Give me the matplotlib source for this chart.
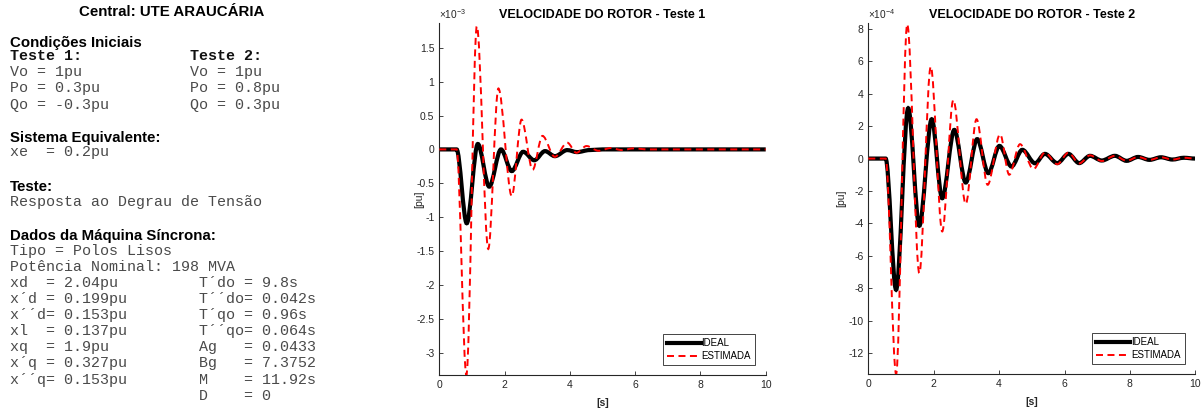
import matplotlib
matplotlib.use("Agg")
import matplotlib.pyplot as plt
from matplotlib.path import Path
from matplotlib.patches import PathPatch
from matplotlib.lines import Line2D
from matplotlib.ticker import FuncFormatter

plt.rcParams['font.family'] = ['Liberation Sans', 'DejaVu Sans']
plt.rcParams['axes.unicode_minus'] = False
plt.rcParams['mathtext.fontset'] = 'custom'
plt.rcParams['mathtext.rm'] = 'Liberation Sans'
plt.rcParams['mathtext.it'] = 'Liberation Sans:italic'

# ---------------- data ----------------
# Teste 1, values in units of 1e-3 pu
ideal1_t = [0, 0.53, 0.84, 1.18, 1.53, 1.89, 2.22, 2.57, 2.91, 3.24, 3.54, 3.92, 4.22, 4.6, 5.0, 10]
ideal1_y = [0, 0, -1.09, 0.08, -0.55, 0.0, -0.32, -0.035, -0.16, -0.025, -0.10, -0.01, -0.04, -0.01, 0, 0]
est1_t = [0, 0.53, 0.83, 1.15, 1.50, 1.81, 2.22, 2.52, 2.86, 3.16, 3.54, 3.92, 4.2, 4.51, 4.88, 5.25, 5.6, 5.95, 6.4, 10]
est1_y = [0, 0, -3.33, 1.82, -1.47, 0.90, -0.69, 0.44, -0.30, 0.20, -0.11, 0.10, -0.05, 0.05, -0.02, 0.02, -0.01, 0.015, 0, 0]

# Teste 2, values in units of 1e-4 pu
ideal2_t = [0, 0.53, 0.85, 1.22, 1.56, 1.94, 2.26, 2.63, 2.98, 3.33, 3.67, 4.01, 4.38, 4.71, 5.10, 5.40,
            5.78, 6.12, 6.45, 6.78, 7.14, 7.54, 7.90, 8.25, 8.6, 8.95, 9.3, 9.65, 10]
ideal2_y = [0, 0, -8.1, 3.11, -4.15, 2.43, -2.45, 1.77, -1.48, 1.2, -0.9, 0.78, -0.49, 0.54, -0.29, 0.29,
            -0.28, 0.29, -0.28, 0.17, -0.12, 0.17, -0.14, 0.1, -0.08, 0.08, -0.06, 0.05, 0]
est2_t = [0, 0.53, 0.85, 1.19, 1.56, 1.91, 2.26, 2.60, 2.98, 3.31, 3.65, 4.03, 4.31, 4.64, 5.05, 5.40,
          5.78, 6.12, 6.45, 6.78, 7.14, 7.54, 7.90, 8.25, 8.6, 8.95, 9.3, 9.65, 10]
est2_y = [0, 0, -13.3, 8.3, -7.08, 5.68, -4.5, 3.62, -2.8, 2.43, -1.62, 1.5, -1.0, 0.89, -0.65, 0.37,
          -0.35, 0.37, -0.3, 0.2, -0.15, 0.17, -0.14, 0.1, -0.08, 0.08, -0.06, 0.05, 0]

titles = ['VELOCIDADE DO ROTOR - Teste 1', 'VELOCIDADE DO ROTOR - Teste 2']
multipliers = [r'$\mathregular{\times10^{-3}}$', r'$\mathregular{\times10^{-4}}$']
legend_labels = ['IDEAL', 'ESTIMADA']

# ---------------- helpers ----------------
def smooth_path(ts, ys):
    verts = [(ts[0], ys[0])]
    codes = [Path.MOVETO]
    for i in range(1, len(ts)):
        t0, y0, t1, y1 = ts[i - 1], ys[i - 1], ts[i], ys[i]
        d = (t1 - t0) / 3.0
        verts += [(t0 + d, y0), (t1 - d, y1), (t1, y1)]
        codes += [Path.CURVE4] * 3
    return Path(verts, codes)

W, H = 1204, 409
fig = plt.figure(figsize=(W / 100, H / 100), dpi=100)

AX_COLOR = '#262626'
BLACK_LW = 3.0
RED_LW = 1.4
RED_DASH = (0, (3.6, 2.3))

def make_axes(rect, ideal_t, ideal_y, est_t, est_y, ylim, yticks, title, mult, ylabel_x):
    ax = fig.add_axes(rect)
    ax.add_patch(PathPatch(smooth_path(ideal_t, ideal_y), fill=False, edgecolor='black',
                           lw=BLACK_LW, transform=ax.transData, zorder=2))
    ax.add_patch(PathPatch(smooth_path(est_t, est_y), fill=False, edgecolor='#ff0000',
                           lw=RED_LW, linestyle=RED_DASH, transform=ax.transData, zorder=3))
    ax.set_xlim(0, 10)
    ax.set_ylim(*ylim)
    ax.set_xticks([0, 2, 4, 6, 8, 10])
    ax.set_yticks(yticks)
    fmt = FuncFormatter(lambda v, p: ('%g' % round(v, 6)))
    ax.xaxis.set_major_formatter(fmt)
    ax.yaxis.set_major_formatter(fmt)
    for s in ['top', 'right']:
        ax.spines[s].set_visible(False)
    for s in ['left', 'bottom']:
        ax.spines[s].set_color(AX_COLOR)
        ax.spines[s].set_linewidth(0.8)
    ax.tick_params(direction='in', length=3, width=0.6, colors=AX_COLOR, labelsize=7.5, pad=3.5)
    ax.set_title(title, fontsize=9, fontweight='bold', pad=3.5, color='black')
    ax.set_xlabel('[s]', fontsize=7.5, fontweight='bold', color=AX_COLOR)
    ax.xaxis.set_label_coords(0.5, -0.066)
    ax.set_ylabel('[pu]', fontsize=7.5, color=AX_COLOR)
    ax.yaxis.set_label_coords(ylabel_x, 0.5)
    ax.text(0.0, 1.006, mult, transform=ax.transAxes, ha='left', va='bottom',
            fontsize=7.3, color=AX_COLOR)
    handles = [Line2D([], [], color='black', lw=BLACK_LW),
               Line2D([], [], color='#ff0000', lw=RED_LW, linestyle=RED_DASH)]
    leg = ax.legend(handles, legend_labels, loc='lower right', bbox_to_anchor=(0.967, 0.028),
                    borderaxespad=0, fontsize=7, frameon=True, fancybox=False, framealpha=1,
                    edgecolor=AX_COLOR, handlelength=3.5, handletextpad=0.1,
                    borderpad=0.4, labelspacing=0.3)
    leg.get_frame().set_linewidth(0.6)
    return ax

ax1 = make_axes([439.3 / W, 1 - 375 / H, 326.4 / W, 352 / H], ideal1_t, ideal1_y, est1_t, est1_y,
                (-3.33, 1.866), [-3, -2.5, -2, -1.5, -1, -0.5, 0, 0.5, 1, 1.5], titles[0], multipliers[0], -0.047)
ax2 = make_axes([868.3 / W, 1 - 374 / H, 327 / W, 351 / H], ideal2_t, ideal2_y, est2_t, est2_y,
                (-13.3, 8.37), [-12, -10, -8, -6, -4, -2, 0, 2, 4, 6, 8], titles[1], multipliers[1], -0.066)

# ---------------- left text panel ----------------
MONO = 'Liberation Mono'
MS = 10.8
TXT = '#4a4a4a'

def ftext(x, y, s, **kw):
    fig.text(x / W, 1 - y / H, s, va='center', **kw)

ftext(171.5, 12, 'Central: UTE ARAUCÁRIA', ha='center', fontsize=10.8, fontweight='bold')
ftext(10, 43, 'Condições Iniciais', fontsize=10.8, fontweight='bold')
ftext(10, 56, 'Teste 1:', family=MONO, fontsize=MS, fontweight='bold', color='#111111')
ftext(190, 56, 'Teste 2:', family=MONO, fontsize=MS, fontweight='bold', color='#111111')
for i, (a, b) in enumerate([('Vo = 1pu', 'Vo = 1pu'), ('Po = 0.3pu', 'Po = 0.8pu'),
                            ('Qo = -0.3pu', 'Qo = 0.3pu')]):
    ftext(10, 72 + 16.3 * i, a, family=MONO, fontsize=MS, color=TXT)
    ftext(190, 72 + 16.3 * i, b, family=MONO, fontsize=MS, color=TXT)

ftext(10, 138, 'Sistema Equivalente:', fontsize=10.8, fontweight='bold')
ftext(10, 152, 'xe  = 0.2pu', family=MONO, fontsize=MS, color=TXT)
ftext(10, 187, 'Teste:', fontsize=10.8, fontweight='bold')
ftext(10, 202, 'Resposta ao Degrau de Tensão', family=MONO, fontsize=MS, color=TXT)
ftext(10, 236, 'Dados da Máquina Síncrona:', fontsize=10.8, fontweight='bold')
ftext(10, 251, 'Tipo = Polos Lisos', family=MONO, fontsize=MS, color=TXT)
ftext(10, 267, 'Potência Nominal: 198 MVA', family=MONO, fontsize=MS, color=TXT)

left_col = ['xd  = 2.04pu', 'x´d = 0.199pu', 'x´´d= 0.153pu', 'xl  = 0.137pu',
            'xq  = 1.9pu', 'x´q = 0.327pu', 'x´´q= 0.153pu']
right_col = ['T´do = 9.8s', 'T´´do= 0.042s', 'T´qo = 0.96s', 'T´´qo= 0.064s',
             'Ag   = 0.0433', 'Bg   = 7.3752', 'M    = 11.92s', 'D    = 0']
for i, s in enumerate(left_col):
    ftext(10, 283 + 16.1 * i, s, family=MONO, fontsize=MS, color=TXT)
for i, s in enumerate(right_col):
    ftext(199, 283 + 16.1 * i, s, family=MONO, fontsize=MS, color=TXT)

fig.savefig('out.png', dpi=100)
